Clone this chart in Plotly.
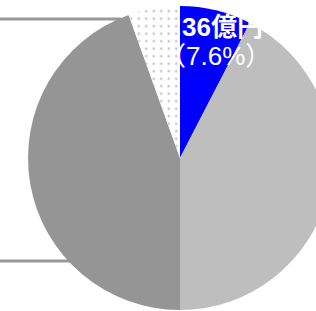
import plotly.graph_objects as go

# data (億円)
labels = ["区分A", "区分B", "区分C", "区分D"]
values = [36, 201, 211, 26]
colors = ["#0000ff", "#bebebe", "#959595", "#ffffff"]
patterns = ["", "", "", "."]

W, H = 340, 311
cx, cy, r = 180, 158, 152

total = sum(values)
amount_text = f"<b>{values[0]}億円</b>"
share_text = f"（{values[0] / total * 100:.1f}%）"

fig = go.Figure(go.Pie(
    labels=labels,
    values=values,
    sort=False,
    direction="clockwise",
    rotation=0,
    textinfo="none",
    hoverinfo="skip",
    showlegend=False,
    marker=dict(
        colors=colors,
        line=dict(width=0),
        pattern=dict(shape=patterns, fgcolor="#c8c8c8", bgcolor="#ffffff",
                     size=7.5, solidity=0.1, fillmode="replace"),
    ),
    domain=dict(x=[(cx - r) / W, (cx + r) / W], y=[(H - cy - r) / H, (H - cy + r) / H]),
))

line_style = dict(color="#999999", width=3)
fig.add_shape(type="line", xref="paper", yref="paper",
              x0=0, x1=121 / W, y0=1 - 19 / H, y1=1 - 19 / H, line=line_style, layer="below")
fig.add_shape(type="line", xref="paper", yref="paper",
              x0=0, x1=70 / W, y0=1 - 261 / H, y1=1 - 261 / H, line=line_style, layer="below")

font = dict(family="Liberation Sans, Noto Sans CJK JP", size=26, color="#ffffff")
fig.add_annotation(
    text=amount_text, xref="paper", yref="paper",
    x=180 / W, y=1 - 27 / H, xanchor="left", yanchor="middle",
    showarrow=False, align="left", font=font,
)
fig.add_annotation(
    text=share_text, xref="paper", yref="paper",
    x=158 / W, y=1 - 56 / H, xanchor="left", yanchor="middle",
    showarrow=False, align="left", font=font,
)

fig.update_layout(
    width=W, height=H,
    margin=dict(l=0, r=0, t=0, b=0),
    paper_bgcolor="#ffffff", plot_bgcolor="#ffffff",
)

fig.write_html("out.html", config={"displayModeBar": False},
               post_script="document.body.style.overflow='hidden';document.body.style.margin='0';")
